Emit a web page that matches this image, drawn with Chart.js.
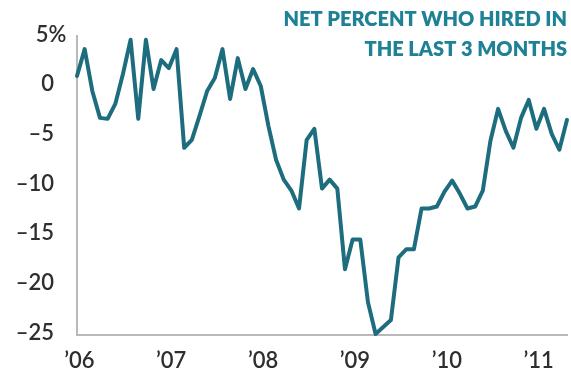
<!DOCTYPE html>
<html>
<head>
<meta charset="utf-8">
<script src="https://cdn.jsdelivr.net/npm/chart.js@4.4.1/dist/chart.umd.min.js"></script>
<style>
  html, body { margin: 0; padding: 0; background: #fff; }
  canvas { display: block; }
</style>
</head>
<body>
<canvas id="hiring" width="571" height="378"></canvas>
<script>
// Monthly readings, Jan 2006 onwards (month index 0 = Jan '06)
const netHired = [
  1.0, 3.7, -0.5, -3.2, -3.3, -1.8, 1.2, 4.65, -3.3, 4.65, -0.3, 2.6,
  1.8, 3.7, -6.2, -5.4, -3.0, -0.5, 0.8, 3.7, -1.3, 2.8, -0.3, 1.7,
  0.0, -4.0, -7.4, -9.4, -10.5, -12.3, -5.4, -4.3, -10.3, -9.4, -10.3, -18.4,
  -15.4, -15.4, -21.7, -24.9, -24.2, -23.5, -17.2, -16.4, -16.4, -12.3, -12.3, -12.1,
  -10.6, -9.5, -10.8, -12.3, -12.1, -10.5, -5.5, -2.3, -4.5, -6.2, -3.2, -1.4,
  -4.3, -2.3, -4.8, -6.4, -3.4
];
const months = netHired.map((_, i) => i);

// Year labels sit just past each January
const yearTicks = [0.3, 12.3, 24.3, 36.3, 48.3, 60.3];
const yearLabels = ['\u201906', '\u201907', '\u201908', '\u201909', '\u201910', '\u201911'];

const yTicks = [5, 0, -5, -10, -15, -20, -25];
const yTopLabel = '5%';

const titleLines = ['NET PERCENT WHO HIRED IN', 'THE LAST 3 MONTHS'];

const teal = '#1d6d7e';
const titleTeal = '#1e8196';
const axisGrey = '#b9b9b9';
const labelGrey = '#2e2e2e';
const fontFamily = "'Lato', 'Open Sans', sans-serif";
const tickFont = { family: fontFamily, size: 22, weight: '600' };

// Title in the top-right corner, plus the "5%" top tick, which hangs
// out past the other right-aligned numbers
const overlay = {
  id: 'overlay',
  afterDraw(chart) {
    const ctx = chart.ctx;
    ctx.save();
    ctx.fillStyle = titleTeal;
    ctx.font = `800 20px ${fontFamily}`;
    ctx.textAlign = 'right';
    ctx.textBaseline = 'middle';
    ctx.fillText(titleLines[0], 567, 20);
    ctx.fillText(titleLines[1], 567, 50);

    const y = chart.scales.y;
    ctx.fillStyle = labelGrey;
    ctx.font = `600 22px ${fontFamily}`;
    ctx.textAlign = 'center';
    ctx.fillText(yTopLabel, 51, y.getPixelForValue(yTicks[0]) - 1);
    ctx.restore();
  }
};

new Chart(document.getElementById('hiring'), {
  type: 'line',
  data: {
    labels: months,
    datasets: [{
      data: netHired.map((v, i) => ({ x: months[i], y: v })),
      borderColor: teal,
      borderWidth: 4,
      borderJoinStyle: 'round',
      borderCapStyle: 'round',
      pointRadius: 0,
      tension: 0,
      clip: 4
    }]
  },
  options: {
    responsive: false,
    animation: false,
    layout: { padding: { top: 29, right: 4, left: 0, bottom: 0 } },
    plugins: { legend: { display: false }, tooltip: { enabled: false } },
    scales: {
      x: {
        type: 'linear',
        min: 0,
        max: months[months.length - 1],
        grid: { display: false, drawTicks: false },
        border: { display: true, color: axisGrey, width: 2 },
        afterBuildTicks(axis) {
          axis.ticks = yearTicks.map(v => ({ value: v }));
        },
        afterFit(scale) { scale.height = 43; },
        ticks: {
          autoSkip: false,
          maxRotation: 0,
          padding: 13,
          color: labelGrey,
          font: tickFont,
          callback(value) {
            const i = yearTicks.indexOf(value);
            return i >= 0 ? yearLabels[i] : '';
          }
        }
      },
      y: {
        min: -25,
        max: 5,
        grid: { display: false, drawTicks: false },
        border: { display: true, color: axisGrey, width: 2 },
        afterBuildTicks(axis) {
          axis.ticks = yTicks.map(v => ({ value: v }));
        },
        afterFit(scale) { scale.width = 77; },
        ticks: {
          padding: 23,
          labelOffset: -2,
          color: labelGrey,
          font: tickFont,
          callback(value) {
            if (value === yTicks[0]) return '';
            return value < 0 ? '\u2013' + Math.abs(value) : String(value);
          }
        }
      }
    }
  },
  plugins: [overlay]
});
</script>
</body>
</html>
